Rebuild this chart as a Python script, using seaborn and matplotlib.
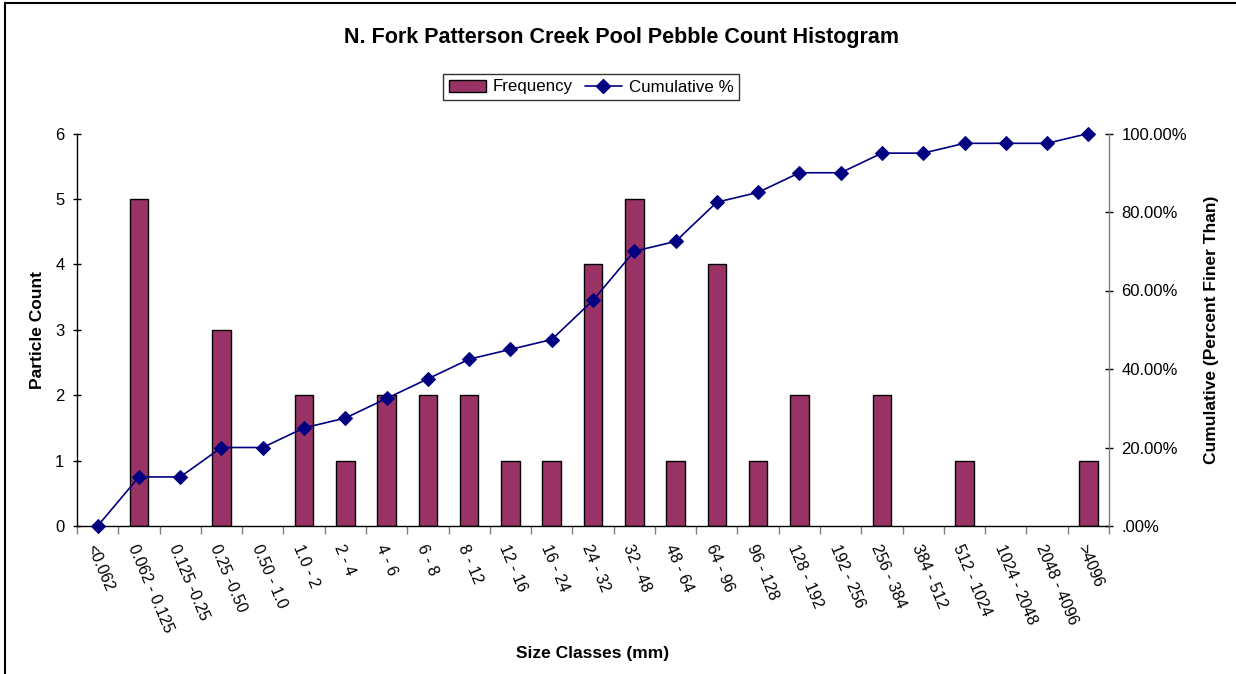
import numpy as np
import pandas as pd
import matplotlib
matplotlib.use("Agg")
import matplotlib.pyplot as plt
from matplotlib.patches import Rectangle, Patch
from matplotlib.lines import Line2D
from matplotlib.ticker import FixedLocator, FuncFormatter
import seaborn as sns

categories = ["<0.062", "0.062 - 0.125", "0.125 -0.25", "0.25 -0.50", "0.50 - 1.0",
              "1.0 - 2", "2 - 4", "4 - 6", "6 - 8", "8 - 12", "12 - 16", "16 - 24",
              "24 - 32", "32 - 48", "48 - 64", "64 - 96", "96 - 128", "128 - 192",
              "192 - 256", "256 - 384", "384 - 512", "512 - 1024", "1024 - 2048",
              "2048 - 4096", ">4096"]
frequency = [0, 5, 0, 3, 0, 2, 1, 2, 2, 2, 1, 1, 4, 5, 1, 4, 1, 2, 0, 2, 0, 1, 0, 0, 1]
cumulative = [0.0, 12.5, 12.5, 20.0, 20.0, 25.0, 27.5, 32.5, 37.5, 42.5, 45.0, 47.5,
              57.5, 70.0, 72.5, 82.5, 85.0, 90.0, 90.0, 95.0, 95.0, 97.5, 97.5, 97.5, 100.0]

sns.set_theme(style="white")
plt.rcParams['font.family'] = ['Liberation Sans', 'DejaVu Sans']
plt.rcParams['text.color'] = 'black'
plt.rcParams['axes.labelcolor'] = 'black'
plt.rcParams['xtick.color'] = 'black'
plt.rcParams['ytick.color'] = 'black'

df = pd.DataFrame({"cat": categories, "freq": frequency, "cum": cumulative,
                   "pos": np.arange(len(categories))})

fig = plt.figure(figsize=(12.36, 6.74), dpi=100)
ax = fig.add_axes([77/1236, 1-526/674, (1109-77)/1236, (526-133.5)/674])

bar_color = "#993366"
line_color = "#000080"

sns.barplot(data=df, x="cat", y="freq", ax=ax, color=bar_color, edgecolor="black",
            linewidth=1.0, width=0.45, saturation=1)
for p in ax.patches:
    if p.get_height() == 0:
        p.set_linewidth(0)
ax.set_xlim(-0.5, len(categories) - 0.5)
ax.set_ylim(0, 6)
ax.set_yticks(range(0, 7))
ax.tick_params(axis='y', which='major', direction='inout', length=6, width=1,
               color='black', labelsize=12, pad=6, left=True)
ax.set_xticks(np.arange(len(categories)))
ax.set_xticklabels(categories, rotation=-67, ha='left', va='top',
                   rotation_mode='anchor', fontsize=11.5)
ax.tick_params(axis='x', which='major', length=0, pad=12)
ax.xaxis.set_minor_locator(FixedLocator(np.arange(-0.5, len(categories), 1.0)))
ax.tick_params(axis='x', which='minor', direction='out', length=6, width=1,
               color='#808080', bottom=True)
for s in ["top", "right"]:
    ax.spines[s].set_visible(False)
ax.spines["left"].set_color("black")
ax.spines["bottom"].set_color("black")
ax.spines["left"].set_linewidth(1)
ax.spines["bottom"].set_linewidth(1)
ax.grid(False)
ax.set_ylabel("Particle Count", fontsize=12.5, fontweight='bold', labelpad=7)
ax.set_xlabel("Size Classes (mm)", fontsize=12.5, fontweight='bold', labelpad=8)

ax2 = ax.twinx()
sns.lineplot(data=df, x="pos", y="cum", ax=ax2, color=line_color, marker="D",
             markersize=7.5, markeredgecolor=line_color, linewidth=1.2, sort=False,
             clip_on=False)
ax2.set_ylim(0, 100)
ax2.set_xlim(-0.5, len(categories) - 0.5)
ax2.set_yticks(np.arange(0, 101, 20))
ax2.yaxis.set_major_formatter(FuncFormatter(lambda v, p: ".00%" if v == 0 else f"{v:.2f}%"))
ax2.tick_params(axis='y', which='major', direction='inout', length=6, width=1,
                color='black', labelsize=12, pad=6, right=True)
for s in ["top", "left", "bottom"]:
    ax2.spines[s].set_visible(False)
ax2.spines["right"].set_color("#808080")
ax2.spines["right"].set_linewidth(1)
ax2.grid(False)
ax2.set_ylabel("Cumulative (Percent Finer Than)", fontsize=12.5, fontweight='bold',
               labelpad=12)
ax2.set_xlabel("")

fig.suptitle("N. Fork Patterson Creek Pool Pebble Count Histogram", x=622/1236,
             y=1-37/674, va='center', fontsize=15.5, fontweight='bold')

handles = [Patch(facecolor=bar_color, edgecolor='black', linewidth=1.0),
           Line2D([0], [0], color=line_color, marker='D', markersize=7, linewidth=1.2)]
leg = fig.legend(handles, ["Frequency", "Cumulative %"], loc='center', ncol=2,
                 bbox_to_anchor=(591/1236, 1-87/674), frameon=True, fancybox=False,
                 fontsize=12.2, handlelength=2.2, handletextpad=0.4, columnspacing=0.7,
                 borderpad=0.35)
leg.get_frame().set_edgecolor('black')
leg.get_frame().set_linewidth(1)

border = Rectangle((5/1236, -0.05), 1.2, 1 - 2.5/674 + 0.05, transform=fig.transFigure,
                   fill=False, edgecolor='black', linewidth=1.5, clip_on=False)
fig.patches.append(border)

fig.savefig("out.png", dpi=100, facecolor='white')
